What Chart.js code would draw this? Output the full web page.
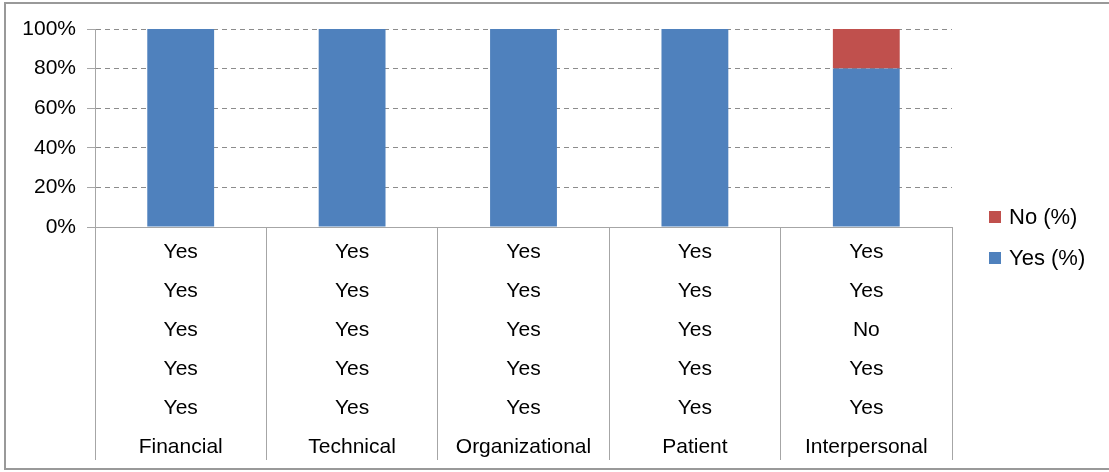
<!DOCTYPE html>
<html>
<head>
<meta charset="utf-8">
<script src="https://cdn.jsdelivr.net/npm/chart.js@4"></script>
<style>
  html, body { margin: 0; padding: 0; background: #fff; }
  #wrap { width: 1109px; height: 472px; }
</style>
</head>
<body>
<div id="wrap"><canvas id="barrierChart"></canvas></div>
<script>
// Categories and the yes/no answers shown in the table under the axis
const categories = ["Financial", "Technical", "Organizational", "Patient", "Interpersonal"];
const answers = [
    ["Yes", "Yes", "Yes", "Yes", "Yes"],
    ["Yes", "Yes", "Yes", "Yes", "Yes"],
    ["Yes", "Yes", "Yes", "Yes", "Yes"],
    ["Yes", "Yes", "Yes", "Yes", "Yes"],
    ["Yes", "Yes", "No", "Yes", "Yes"]
];
const yesPct = [100, 100, 100, 100, 80];
const noPct = [0, 0, 0, 0, 20];
const yTicks = [0, 20, 40, 60, 80, 100];

const FONT = "Arial, 'Liberation Sans', sans-serif";
const LINE = "#a6a6a6";

// multi-line labels: answers on top, category name last
const labels = categories.map((c, i) => [...answers[i], c]);

// white background + outer frame
const frame = {
    id: "frame",
    beforeDraw(chart) {
        const ctx = chart.ctx;
        ctx.save();
        ctx.fillStyle = "#fff";
        ctx.fillRect(0, 0, chart.width, chart.height);
        ctx.strokeStyle = "#999";
        ctx.lineWidth = 2;
        ctx.strokeRect(5, 3, chart.width + 10, chart.height - 6);
        ctx.restore();
    }
};

// legend drawn at the right, top item = last dataset
const sideLegend = {
    id: "sideLegend",
    afterDraw(chart) {
        const ctx = chart.ctx;
        const x = chart.chartArea.right + 37;
        let y = 217;
        ctx.save();
        ctx.font = "22px " + FONT;
        ctx.textBaseline = "middle";
        ctx.textAlign = "left";
        chart.data.datasets.slice().reverse().forEach((ds) => {
            ctx.fillStyle = ds.backgroundColor;
            ctx.fillRect(x, y - 6, 12, 12);
            ctx.fillStyle = "#000";
            ctx.fillText(ds.label, x + 20, y + 1);
            y += 41;
        });
        ctx.restore();
    }
};

new Chart(document.getElementById("barrierChart").getContext("2d"), {
    type: "bar",
    data: {
        labels: labels,
        datasets: [
            { label: "Yes (%)", data: yesPct, backgroundColor: "#4f81bd" },
            { label: "No (%)", data: noPct, backgroundColor: "#c0504d" }
        ]
    },
    options: {
        responsive: true,
        maintainAspectRatio: false,
        animation: false,
        layout: { padding: { left: 8, top: 29, right: 157, bottom: 12 } },
        plugins: {
            legend: { display: false },
            tooltip: { enabled: false }
        },
        datasets: { bar: { categoryPercentage: 1, barPercentage: 0.39 } },
        scales: {
            x: {
                stacked: true,
                afterFit: (s) => { s.height = 233; },
                grid: {
                    drawOnChartArea: false,
                    drawTicks: true,
                    tickLength: 233,
                    color: LINE,
                    tickColor: LINE
                },
                border: { color: LINE },
                ticks: {
                    autoSkip: false,
                    maxRotation: 0,
                    padding: -227.5,
                    color: "#000",
                    font: { family: FONT, size: 21, lineHeight: 39 / 21 }
                }
            },
            y: {
                stacked: true,
                min: 0,
                max: 100,
                afterFit: (s) => { s.width = 87; },
                afterBuildTicks: (s) => { s.ticks = yTicks.map((v) => ({ value: v })); },
                grid: { color: "#8c8c8c", tickColor: LINE, tickLength: 8 },
                border: { color: LINE, dash: [5, 4] },
                ticks: {
                    padding: 11,
                    color: "#000",
                    font: { family: FONT, size: 21 },
                    callback: (v) => v + "%"
                }
            }
        }
    },
    plugins: [frame, sideLegend]
});
</script>
</body>
</html>
